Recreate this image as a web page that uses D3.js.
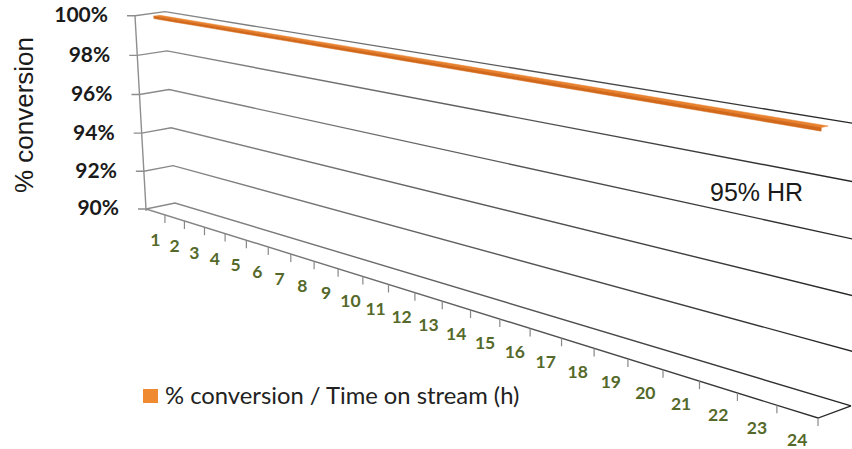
<!DOCTYPE html>
<html>
<head>
<meta charset="utf-8">
<script src="https://cdn.jsdelivr.net/npm/d3@7"></script>
<style>
  html, body { margin: 0; padding: 0; background: #fff; }
  svg { display: block; }
</style>
</head>
<body>
<svg id="chart" width="852" height="449"></svg>
<script>
// ---- data ----
const categories = ["1","2","3","4","5","6","7","8","9","10","11","12",
                    "13","14","15","16","17","18","19","20","21","22","23","24"];
const conversion = [100,100,100,100,100,100,100,100,100,100,100,100,
                    100,100,100,100,100,100,100,100,100,100,100,100];
const yTicks = [90, 92, 94, 96, 98, 100];
const yTickLabels = ["90%", "92%", "94%", "96%", "98%", "100%"];
const seriesName = "% conversion / Time on stream (h)";
const axisTitle = "% conversion";
const note = "95% HR";

// ---- 3D view: world box [0,1]^3 (X = time axis, Y = value, Z = depth) ----
// projected through vanishing points of the three box directions
const view = {
  origin: [146, 209],
  vx: [-1201, -210], kx: -0.33284,
  vy: [503, 6477],   ky: -0.0299,
  vz: [2981, -378],  kz: 0.01034
};
function project(X, Y, Z) {
  const v = view;
  const w = 1 + v.kx * X + v.ky * Y + v.kz * Z;
  const px = v.origin[0] + v.kx * v.vx[0] * X + v.ky * v.vy[0] * Y + v.kz * v.vz[0] * Z;
  const py = v.origin[1] + v.kx * v.vx[1] * X + v.ky * v.vy[1] * Y + v.kz * v.vz[1] * Z;
  return [px / w, py / w];
}

// ---- scales ----
const x = d3.scaleBand().domain(categories).range([0, 1]);
const y = d3.scaleLinear().domain([90, 100]).range([0, 1]);
const xc = c => x(c) + x.bandwidth() / 2;

const svg = d3.select("#chart");
svg.append("rect").attr("width", 852).attr("height", 449).attr("fill", "#fff");

const defs = svg.append("defs");
const grad = defs.append("linearGradient")
  .attr("id", "gridShade").attr("gradientUnits", "userSpaceOnUse")
  .attr("x1", 130).attr("x2", 850).attr("y1", 0).attr("y2", 0);
grad.append("stop").attr("offset", 0).attr("stop-color", "#8e8e8e");
grad.append("stop").attr("offset", 1).attr("stop-color", "#262626");

const line = d3.line();

// ---- walls: value gridlines across left wall and back wall ----
const gridG = svg.append("g").attr("fill", "none")
  .attr("stroke", "url(#gridShade)").attr("stroke-width", 1.4);
yTicks.forEach(v => {
  const a = project(0, y(v), 0);
  const pts = [[a[0] - 8, a[1]], a, project(0, y(v), 1), project(1, y(v), 1)];
  gridG.append("path").attr("d", line(pts));
});

// vertical value axis
gridG.append("path").attr("d", line([project(0, y(100), 0), project(0, y(90), 0), project(0, -0.01, 0)]))
  .attr("stroke", "#8e8e8e");

// floor: front edge (time axis) and right edge
gridG.append("path").attr("d", line([project(0, 0, 0), project(1, 0, 0), project(1, 0, 1)]));

// time-axis ticks at category boundaries
const bounds = categories.map(c => x(c)).concat([1]).slice(1);
bounds.forEach(b => {
  const p = project(b, 0, 0);
  gridG.append("path").attr("d", line([p, [p[0], p[1] + 8]]))
    .attr("stroke", "#888").attr("stroke-width", 1.2);
});

// ---- value labels ----
svg.append("g").selectAll("text").data(yTicks).join("text")
  .attr("x", v => project(0, y(v), 0)[0] - 27)
  .attr("y", v => project(0, y(v), 0)[1] + 1)
  .attr("text-anchor", "end").attr("dominant-baseline", "middle")
  .attr("font-family", "Lato, 'Open Sans', sans-serif").attr("font-weight", 700)
  .attr("font-size", 21).attr("fill", "#1a1a1a")
  .text((v, i) => yTickLabels[i]);

// ---- time labels ----
svg.append("g").selectAll("text").data(categories).join("text")
  .attr("x", c => project(xc(c), 0, 0)[0])
  .attr("y", c => project(xc(c), 0, 0)[1] + 30)
  .attr("text-anchor", "middle").attr("dominant-baseline", "middle")
  .attr("font-family", "Lato, 'Open Sans', sans-serif").attr("font-weight", 700)
  .attr("font-size", 17.5).attr("fill", "#55692a")
  .text(c => c);

// ---- series ribbon ----
const zFront = 0.3, zBack = 0.5, thick = 0.012;
const front = categories.map((c, i) => project(xc(c), y(conversion[i]), zFront));
const back = categories.map((c, i) => project(xc(c), y(conversion[i]), zBack));
const low = categories.map((c, i) => project(xc(c), y(conversion[i]) - thick, zFront));
const ribbon = svg.append("g");
ribbon.append("path").attr("d", line(front.concat(back.slice().reverse())) + "Z")
  .attr("fill", "#e9822f").attr("stroke", "#e9822f").attr("stroke-width", 0.5);
ribbon.append("path").attr("d", line(front.concat(low.slice().reverse())) + "Z")
  .attr("fill", "#d2681a").attr("stroke", "#d2681a").attr("stroke-width", 0.5);

// ---- axis title ----
svg.append("text")
  .attr("transform", "translate(33,115) rotate(-90)")
  .attr("text-anchor", "middle")
  .attr("font-family", "'Liberation Sans', Arial, sans-serif")
  .attr("font-size", 26).attr("fill", "#1a1a1a")
  .text(axisTitle);

// ---- annotation ----
svg.append("text")
  .attr("x", 710).attr("y", 201)
  .attr("font-family", "'Liberation Sans', Arial, sans-serif")
  .attr("font-size", 25).attr("fill", "#1a1a1a")
  .text(note);

// ---- legend ----
const lg = svg.append("g").attr("transform", "translate(143,389)");
lg.append("rect").attr("width", 15).attr("height", 14).attr("fill", "#f08a30");
lg.append("text").attr("x", 22).attr("y", 15)
  .attr("font-family", "Lato, 'Open Sans', sans-serif")
  .attr("font-size", 23.8).attr("fill", "#222")
  .text(seriesName);
</script>
</body>
</html>
